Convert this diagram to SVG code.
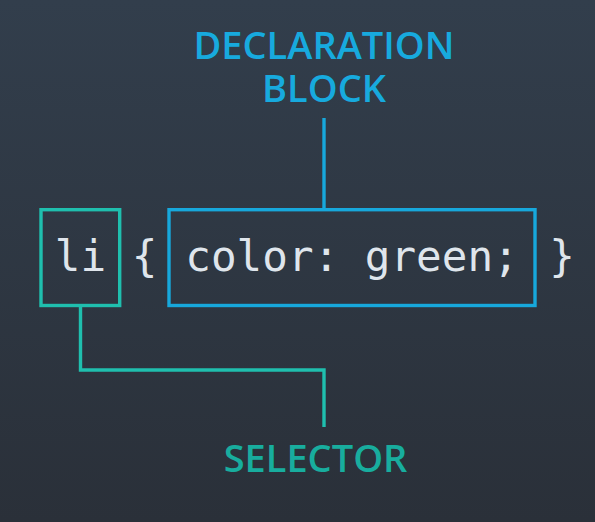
<svg xmlns="http://www.w3.org/2000/svg" width="595" height="522" viewBox="0 0 595 522">
<defs>
<linearGradient id="bg" x1="0" y1="0" x2="0" y2="1">
<stop offset="0" stop-color="#323e4c"/>
<stop offset="1" stop-color="#2a3039"/>
</linearGradient>
</defs>
<style>
.code{font-family:"DejaVu Sans Mono","Liberation Mono",monospace;font-size:42.6px;fill:#dfe5ec;text-anchor:middle}
.lbl{font-family:"Open Sans","Noto Sans",sans-serif;font-weight:600;font-size:38px;text-anchor:middle}
.teal{stroke:#1fbfae;fill:none;stroke-width:3.4}
.blue{stroke:#17a8dc;fill:none;stroke-width:3.4}
</style>
<rect width="595" height="522" fill="url(#bg)"/>
<g id="connectors">
<line class="blue" x1="324" y1="118" x2="324" y2="209.7"/>
<polyline class="teal" points="80.5,305.5 80.5,370 324,370 324,427"/>
</g>
<g id="declaration-label">
<text class="lbl" x="324" y="59" fill="#17aade">DECLARATION</text>
<text class="lbl" x="324" y="102" fill="#17aade">BLOCK</text>
</g>
<g id="selector-node">
<rect class="teal" x="41" y="209.7" width="78.7" height="95.8"/>
<text class="code" x="80.5" y="271">li</text>
</g>
<g id="braces">
<text class="code" x="144.5" y="271">{</text>
<text class="code" x="562" y="271">}</text>
</g>
<g id="declaration-node">
<rect class="blue" x="169" y="209.7" width="366" height="95.8"/>
<text class="code" x="352" y="271">color: green;</text>
</g>
<g id="selector-label">
<text class="lbl" x="315.5" y="472" fill="#18ad9e">SELECTOR</text>
</g>
</svg>
